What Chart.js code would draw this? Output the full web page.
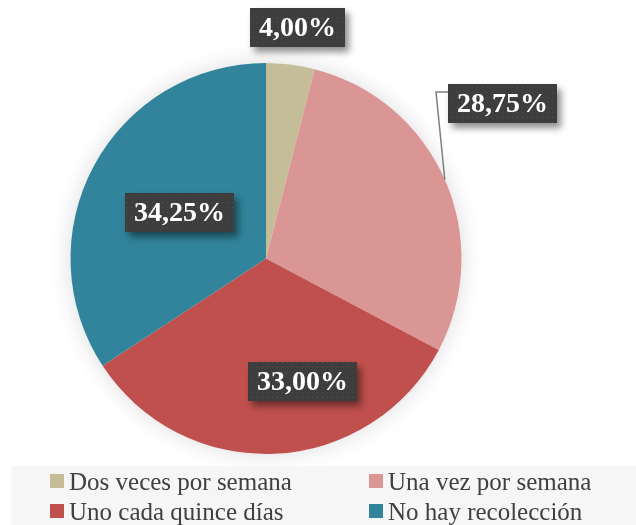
<!DOCTYPE html>
<html>
<head>
<meta charset="utf-8">
<script src="https://cdn.jsdelivr.net/npm/chart.js@4.4.0/dist/chart.umd.min.js"></script>
<style>
  html, body { margin: 0; padding: 0; background: #ffffff; }
  #wrap { position: relative; width: 636px; height: 525px; }
</style>
</head>
<body>
<div id="wrap"><canvas id="pieChart" width="636" height="525"></canvas></div>
<script>
// datos del gráfico
var categorias = ['Dos veces por semana', 'Una vez por semana', 'Uno cada quince días', 'No hay recolección'];
var porcentajes = [4.00, 28.75, 33.00, 34.25];
var colores = ['#c4bd97', '#d99694', '#c0504d', '#31849b'];

// posición de las etiquetas: [factor radial, dx, dy]
var posEtiquetas = [[1.19, 2, 0], [1.3, 4, -52], [0.63, 31, 0], [0.5, 0, 0]];

function formato(v) {
    return v.toFixed(2).replace('.', ',') + '%';
}

// fondo punteado de las etiquetas
function patronEtiqueta(ctx) {
    var c = document.createElement('canvas');
    c.width = 5; c.height = 5;
    var p = c.getContext('2d');
    p.fillStyle = '#3d3d3d';
    p.fillRect(0, 0, 5, 5);
    p.fillStyle = '#505050';
    p.fillRect(2, 2, 1, 1);
    return ctx.createPattern(c, 'repeat');
}

var sombraTarta = {
    id: 'sombraTarta',
    beforeDatasetsDraw: function(chart) {
        var arc = chart.getDatasetMeta(0).data[0];
        var ctx = chart.ctx;
        ctx.save();
        ctx.shadowColor = 'rgba(0,0,0,0.14)';
        ctx.shadowBlur = 22;
        ctx.fillStyle = '#ffffff';
        ctx.beginPath();
        ctx.arc(arc.x, arc.y, arc.outerRadius, 0, Math.PI * 2);
        ctx.fill();
        ctx.restore();
    }
};

var etiquetas = {
    id: 'etiquetas',
    afterDatasetsDraw: function(chart) {
        var ctx = chart.ctx;
        var arcs = chart.getDatasetMeta(0).data;
        var patron = patronEtiqueta(ctx);
        ctx.save();
        ctx.font = 'bold 28px "Liberation Serif"';
        arcs.forEach(function(arc, i) {
            var mid = (arc.startAngle + arc.endAngle) / 2;
            var r = arc.outerRadius;
            var pos = posEtiquetas[i];
            var cx = arc.x + Math.cos(mid) * r * pos[0] + pos[1];
            var cy = arc.y + Math.sin(mid) * r * pos[0] + pos[2];
            var texto = formato(porcentajes[i]);
            var w = ctx.measureText(texto).width + 18;
            var h = 39;
            var x = Math.round(cx - w / 2), y = Math.round(cy - h / 2);

            // línea guía si la etiqueta está lejos del sector
            if (pos[0] > 1 && Math.abs(pos[2]) > 20) {
                ctx.strokeStyle = '#7f7f7f';
                ctx.lineWidth = 1.5;
                ctx.beginPath();
                ctx.moveTo(x, y + 8);
                ctx.lineTo(x - 12, y + 8);
                ctx.lineTo(arc.x + Math.cos(mid) * r, arc.y + Math.sin(mid) * r);
                ctx.stroke();
            }

            ctx.save();
            ctx.shadowColor = 'rgba(0,0,0,0.45)';
            ctx.shadowBlur = 7;
            ctx.shadowOffsetX = 4;
            ctx.shadowOffsetY = 5;
            ctx.fillStyle = '#3d3d3d';
            ctx.fillRect(x, y, w, h);
            ctx.restore();
            ctx.fillStyle = patron;
            ctx.fillRect(x, y, w, h);

            ctx.fillStyle = '#ffffff';
            ctx.textAlign = 'center';
            ctx.textBaseline = 'middle';
            ctx.fillText(texto, x + w / 2, y + h / 2 + 1);
        });
        ctx.restore();
    }
};

var leyenda = {
    id: 'leyenda',
    afterDraw: function(chart) {
        var ctx = chart.ctx;
        ctx.save();
        ctx.fillStyle = '#f6f6f6';
        ctx.fillRect(11, 466, 625, 59);
        ctx.font = '25px "Liberation Serif"';
        ctx.textBaseline = 'alphabetic';
        ctx.textAlign = 'left';
        var colX = [50, 369];
        var filaY = [490, 520];
        categorias.forEach(function(cat, i) {
            var x = colX[i % 2];
            var y = filaY[Math.floor(i / 2)];
            ctx.fillStyle = colores[i];
            ctx.fillRect(x, y - 16, 14, 14);
            ctx.fillStyle = '#404040';
            ctx.fillText(cat, x + 19, y);
        });
        ctx.restore();
    }
};

var ctx = document.getElementById('pieChart').getContext('2d');
var miTarta = new Chart(ctx, {
    type: 'pie',
    data: {
        labels: categorias,
        datasets: [{
            data: porcentajes,
            backgroundColor: colores,
            borderWidth: 0
        }]
    },
    options: {
        responsive: false,
        animation: false,
        layout: {
            padding: { left: 70, right: 174, top: 63, bottom: 71 }
        },
        plugins: {
            legend: { display: false },
            tooltip: { enabled: false }
        }
    },
    plugins: [sombraTarta, etiquetas, leyenda]
});
</script>
</body>
</html>
